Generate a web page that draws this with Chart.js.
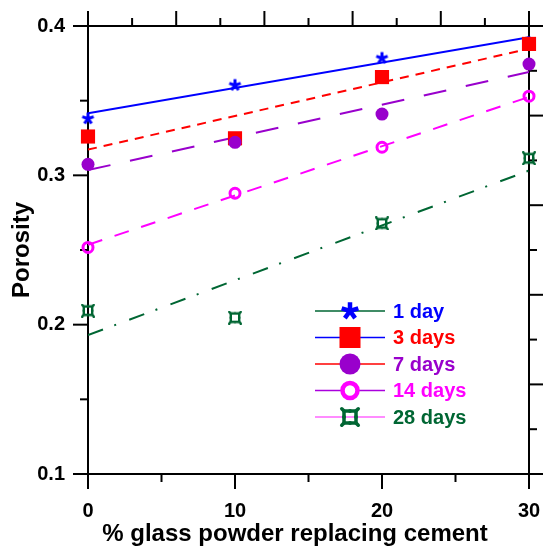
<!DOCTYPE html>
<html><head><meta charset="utf-8">
<script src="https://cdn.jsdelivr.net/npm/chart.js@4/dist/chart.umd.min.js"></script>
<style>html,body{margin:0;padding:0;background:#fff;overflow:hidden}#wrap{width:543px;height:551px;position:relative}</style>
</head><body><div id="wrap"><canvas id="c" width="543" height="551"></canvas></div>
<script>
// ---- data ----
const xValues = [0, 10, 20, 30];
const seriesNames = ['1 day', '3 days', '7 days', '14 days', '28 days'];
const day1  = [0.338, 0.3604, 0.3785, 0.389];
const day3  = [0.326, 0.3248, 0.3658, 0.388];
const day7  = [0.3074, 0.3221, 0.341, 0.3745];
const day14 = [0.2517, 0.288, 0.3188, 0.353];
const day28 = [0.2094, 0.2047, 0.2678, 0.3114];
// fitted trend lines (end values at x = 0 and x = 30)
const fitX   = [0, 30];
const fit1   = [0.3415, 0.3925];
const fit3   = [0.3172, 0.3848];
const fit7   = [0.3035, 0.3692];
const fit14  = [0.2535, 0.3525];
const fit28  = [0.193, 0.3032];
const xTickLabels = ['0', '10', '20', '30'];
const yTickValues = [0.1, 0.2, 0.3, 0.4];
const yTickLabels = ['0.1', '0.2', '0.3', '0.4'];
const xTitle = '% glass powder replacing cement';
const yTitle = 'Porosity';

// ---- styles ----
const FONT = '"Liberation Sans", Arial, sans-serif';
const BLUE = '#0000ff', RED = '#ff0000', PURPLE = '#9900cc', MAGENTA = '#ff00ff', GREEN = '#006633';
const seriesColors = [BLUE, RED, PURPLE, MAGENTA, GREEN];
const legendLineColors = [GREEN, BLUE, RED, '#aa00dd', '#ff66ff'];

function drawAsterisk(ctx, x, y, size, lw, color) {
  const r = size / 2 - lw / 2;
  ctx.save(); ctx.strokeStyle = color; ctx.lineWidth = lw; ctx.lineCap = 'butt';
  for (let k = 0; k < 5; k++) {
    const a = -Math.PI / 2 + k * 2 * Math.PI / 5;
    ctx.beginPath(); ctx.moveTo(x, y); ctx.lineTo(x + r * Math.cos(a), y + r * Math.sin(a)); ctx.stroke();
  }
  ctx.restore();
}
function drawGreenMark(ctx, x, y, size, lw, color) {
  const h = size * 0.30, p = size / 2 - lw / 2;
  ctx.save(); ctx.strokeStyle = color; ctx.lineWidth = lw; ctx.lineCap = 'round'; ctx.lineJoin = 'round';
  ctx.beginPath(); ctx.rect(x - h, y - h, 2 * h, 2 * h); ctx.stroke();
  [[1,1],[1,-1],[-1,1],[-1,-1]].forEach(([sx, sy]) => {
    ctx.beginPath(); ctx.moveTo(x + sx * h, y + sy * h); ctx.lineTo(x + sx * p, y + sy * p); ctx.stroke();
  });
  ctx.fillStyle = color;
  [[0,-1],[0,1],[-1,0],[1,0]].forEach(([sx, sy]) => {
    ctx.beginPath(); ctx.arc(x + sx * h, y + sy * h, lw * 0.55, 0, 2 * Math.PI); ctx.fill();
  });
  ctx.restore();
}
function markerCanvas(fn, size, lw, color) {
  const c = document.createElement('canvas'); c.width = size; c.height = size;
  fn(c.getContext('2d'), size / 2, size / 2, size, lw, color);
  return c;
}
const asteriskImg = markerCanvas(drawAsterisk, 15, 3, BLUE);
const greenImg = markerCanvas(drawGreenMark, 14, 2.4, GREEN);

function pts(ys) { return xValues.map((x, i) => ({ x, y: ys[i] })); }
function fitPts(ys) { return fitX.map((x, i) => ({ x, y: ys[i] })); }

const markerSets = [
  { data: pts(day1), pointStyle: asteriskImg, backgroundColor: BLUE, borderColor: BLUE, pointRadius: 7, order: 5 },
  { data: pts(day3), pointStyle: 'rect', backgroundColor: RED, borderColor: RED, pointRadius: 10, pointBorderWidth: 0, order: 4 },
  { data: pts(day7), pointStyle: 'circle', backgroundColor: PURPLE, borderColor: PURPLE, pointRadius: 6.5, pointBorderWidth: 0, order: 3 },
  { data: pts(day14), pointStyle: 'circle', backgroundColor: 'rgba(0,0,0,0)', borderColor: MAGENTA, pointRadius: 5, pointBorderWidth: 3, order: 2 },
  { data: pts(day28), pointStyle: greenImg, backgroundColor: GREEN, borderColor: GREEN, pointRadius: 7, order: 1 },
].map((d, i) => Object.assign({ label: seriesNames[i], showLine: false, clip: false }, d));

const fitSets = [
  { data: fitPts(fit1), borderColor: BLUE, borderDash: [] },
  { data: fitPts(fit3), borderColor: RED, borderDash: [9, 7] },
  { data: fitPts(fit7), borderColor: PURPLE, borderDash: [23, 20] },
  { data: fitPts(fit14), borderColor: MAGENTA, borderDash: [15, 13] },
  { data: fitPts(fit28), borderColor: GREEN, borderDash: [16, 12, 2, 14] },
].map((d, i) => Object.assign({ label: 'fit ' + seriesNames[i], showLine: true, pointRadius: 0, borderWidth: 2, fill: false, order: 20 }, d));

const frameTicks = {
  id: 'frameTicks',
  beforeDatasetsDraw(chart) {
    const { ctx, chartArea: a, scales: { x, y } } = chart;
    ctx.save(); ctx.strokeStyle = '#000'; ctx.lineWidth = 2; ctx.lineCap = 'butt';
    ctx.strokeRect(a.left, a.top, a.right - a.left, a.bottom - a.top);
    const line = (x1, y1, x2, y2) => { ctx.beginPath(); ctx.moveTo(x1, y1); ctx.lineTo(x2, y2); ctx.stroke(); };
    // bottom axis
    [0, 10, 20, 30].forEach(v => { const px = x.getPixelForValue(v); line(px, a.bottom, px, a.bottom + 15); });
    [5, 15, 25].forEach(v => { const px = x.getPixelForValue(v); line(px, a.bottom, px, a.bottom + 8); });
    // top axis (secondary, 10 divisions)
    [0, 6, 12, 18, 24, 30].forEach(v => { const px = x.getPixelForValue(v); line(px, a.top, px, a.top - 15); });
    [3, 9, 15, 21, 27].forEach(v => { const px = x.getPixelForValue(v); line(px, a.top, px, a.top - 8); });
    // left axis
    [0.1, 0.2, 0.3, 0.4].forEach(v => { const py = y.getPixelForValue(v); line(a.left, py, a.left - 15, py); });
    [0.15, 0.25, 0.35].forEach(v => { const py = y.getPixelForValue(v); line(a.left, py, a.left - 8, py); });
    // right axis (secondary, 10 divisions)
    [0.1, 0.16, 0.22, 0.28, 0.34, 0.4].forEach(v => { const py = y.getPixelForValue(v); line(a.right, py, a.right + 14, py); });
    [0.13, 0.19, 0.25, 0.31, 0.37].forEach(v => { const py = y.getPixelForValue(v); line(a.right, py, a.right + 8, py); });
    ctx.restore();
  }
};

const legendPlugin = {
  id: 'customLegend',
  afterDraw(chart) {
    const { ctx } = chart;
    const x0 = 315, x1 = 385, xm = 350, xt = 393, yt = 311, dy = 26.5;
    ctx.save();
    seriesNames.forEach((name, i) => {
      const yy = yt + i * dy;
      ctx.strokeStyle = legendLineColors[i]; ctx.lineWidth = 1.5;
      ctx.beginPath(); ctx.moveTo(x0, yy); ctx.lineTo(x1, yy); ctx.stroke();
      if (i === 0) drawAsterisk(ctx, xm, yy, 22, 4.5, BLUE);
      else if (i === 1) { ctx.fillStyle = RED; ctx.fillRect(xm - 10.5, yy - 10.5, 21, 21); }
      else if (i === 2) { ctx.fillStyle = PURPLE; ctx.beginPath(); ctx.arc(xm, yy, 10.5, 0, 2 * Math.PI); ctx.fill(); }
      else if (i === 3) { ctx.strokeStyle = MAGENTA; ctx.lineWidth = 4.5; ctx.fillStyle = '#fff'; ctx.beginPath(); ctx.arc(xm, yy, 7.5, 0, 2 * Math.PI); ctx.fill(); ctx.stroke(); }
      else { drawGreenMark(ctx, xm, yy, 20, 3.5, GREEN); }
      ctx.fillStyle = seriesColors[i]; ctx.font = 'bold 20px ' + FONT;
      ctx.textAlign = 'left'; ctx.textBaseline = 'middle';
      ctx.fillText(name, xt, yy + 1);
    });
    // x-axis title (slightly left of the plot centre, as in the reference)
    ctx.fillStyle = '#000'; ctx.font = 'bold 24px ' + FONT;
    ctx.textAlign = 'center'; ctx.textBaseline = 'alphabetic';
    ctx.fillText(xTitle, 295, 541);
    ctx.restore();
  }
};

new Chart(document.getElementById('c'), {
  type: 'scatter',
  data: { datasets: [...markerSets, ...fitSets] },
  options: {
    responsive: false, animation: false, devicePixelRatio: 1,
    layout: { padding: { top: 26, right: 14, left: 0, bottom: 0 } },
    plugins: { legend: { display: false }, tooltip: { enabled: false } },
    scales: {
      x: {
        type: 'linear', position: 'bottom', min: 0, max: 30,
        afterFit: s => { s.height = 77; s.paddingLeft = 0; s.paddingRight = 0; },
        grid: { display: false, drawTicks: false }, border: { display: false },
        ticks: { stepSize: 10, padding: 25, color: '#000', font: { family: FONT, size: 20, weight: 'bold' },
          callback: v => { const i = xValues.indexOf(v); return i >= 0 ? xTickLabels[i] : ''; } },
        title: { display: false }
      },
      y: {
        type: 'linear', position: 'left', min: 0.1, max: 0.4,
        afterFit: s => { s.width = 88; s.paddingTop = 0; s.paddingBottom = 0; },
        grid: { display: false, drawTicks: false }, border: { display: false },
        ticks: { stepSize: 0.1, padding: 23, color: '#000', font: { family: FONT, size: 20, weight: 'bold' },
          callback: v => { const i = yTickValues.findIndex(t => Math.abs(t - v) < 1e-6); return i >= 0 ? yTickLabels[i] : ''; } },
        title: { display: true, text: yTitle, color: '#000', font: { family: FONT, size: 24, weight: 'bold' }, padding: { top: 8, bottom: 0 } }
      }
    }
  },
  plugins: [frameTicks, legendPlugin]
});
</script></body></html>
